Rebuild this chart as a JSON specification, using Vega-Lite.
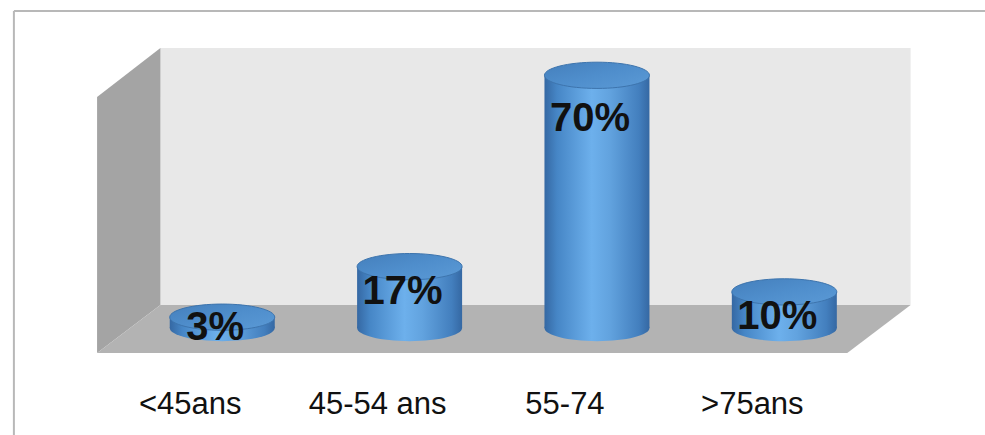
{
  "$schema": "https://vega.github.io/schema/vega-lite/v6.json",
  "width": 985,
  "height": 435,
  "autosize": {"type": "none"},
  "padding": 0,
  "background": "#ffffff",
  "config": {"view": {"stroke": null}},
  "datasets": {
    "bars": [
      {"age": "<45ans", "i": 0, "v": 3},
      {"age": "45-54 ans", "i": 1, "v": 17},
      {"age": "55-74", "i": 2, "v": 70},
      {"age": ">75ans", "i": 3, "v": 10}
    ],
    "backWall": [{"x1": -0.33, "x2": 3.674, "y1": 6.37, "y2": 77.56}],
    "leftWall": [
      {"x": -0.668, "lo": -6.93, "hi": 63.99},
      {"x": -0.33, "lo": 6.37, "hi": 77.56}
    ],
    "floor": [
      {"y": -6.93, "left": -0.668, "right": 3.336},
      {"y": 6.37, "left": -0.33, "right": 3.674}
    ],
    "frame": [{"x": -1.112, "xEnd": 4.2, "y": 87.81, "yEnd": -31}]
  },
  "layer": [
    {
      "data": {"name": "frame"},
      "mark": {"type": "rule", "color": "#b8b8b8", "strokeWidth": 2},
      "encoding": {
        "x": {"field": "x", "type": "quantitative", "scale": {"domain": [-1.1595, 4.0444], "nice": false, "zero": false}, "axis": null},
        "x2": {"field": "xEnd"},
        "y": {"field": "y", "type": "quantitative", "scale": {"domain": [-29.64, 90.86], "nice": false, "zero": false}, "axis": null}
      }
    },
    {
      "data": {"name": "frame"},
      "mark": {"type": "rule", "color": "#b8b8b8", "strokeWidth": 2},
      "encoding": {
        "x": {"field": "x", "type": "quantitative"},
        "y": {"field": "y", "type": "quantitative"},
        "y2": {"field": "yEnd"}
      }
    },
    {
      "data": {"name": "backWall"},
      "mark": {"type": "rect", "fill": "#e8e8e8"},
      "encoding": {
        "x": {"field": "x1", "type": "quantitative"},
        "x2": {"field": "x2"},
        "y": {"field": "y1", "type": "quantitative"},
        "y2": {"field": "y2"}
      }
    },
    {
      "data": {"name": "leftWall"},
      "mark": {"type": "area", "fill": "#a4a4a4", "orient": "vertical"},
      "encoding": {
        "x": {"field": "x", "type": "quantitative"},
        "y": {"field": "hi", "type": "quantitative"},
        "y2": {"field": "lo"}
      }
    },
    {
      "data": {"name": "floor"},
      "mark": {"type": "area", "fill": "#b3b3b3", "orient": "horizontal"},
      "encoding": {
        "y": {"field": "y", "type": "quantitative"},
        "x": {"field": "left", "type": "quantitative"},
        "x2": {"field": "right"}
      }
    },
    {
      "data": {"name": "bars"},
      "mark": {
        "type": "point",
        "shape": "M-1,0C-1,-0.138,-0.5523,-0.25,0,-0.25C0.5523,-0.25,1,-0.138,1,0C1,0.138,0.5523,0.25,0,0.25C-0.5523,0.25,-1,0.138,-1,0Z",
        "size": 11025,
        "filled": true,
        "opacity": 1,
        "strokeWidth": 0,
        "fill": {"gradient": "linear", "x1": 0, "x2": 1, "y1": 0, "y2": 0, "stops": [
          {"offset": 0, "color": "#3568a3"},
          {"offset": 0.12, "color": "#4686c6"},
          {"offset": 0.45, "color": "#6db0ec"},
          {"offset": 0.62, "color": "#62a3df"},
          {"offset": 0.9, "color": "#437fbe"},
          {"offset": 1, "color": "#3568a3"}
        ]}
      },
      "encoding": {
        "x": {"field": "i", "type": "quantitative"},
        "y": {"datum": 0, "type": "quantitative"}
      }
    },
    {
      "data": {"name": "bars"},
      "mark": {
        "type": "bar",
        "width": 105,
        "fill": {"gradient": "linear", "x1": 0, "x2": 1, "y1": 0, "y2": 0, "stops": [
          {"offset": 0, "color": "#3568a3"},
          {"offset": 0.12, "color": "#4686c6"},
          {"offset": 0.45, "color": "#6db0ec"},
          {"offset": 0.62, "color": "#62a3df"},
          {"offset": 0.9, "color": "#437fbe"},
          {"offset": 1, "color": "#3568a3"}
        ]}
      },
      "encoding": {
        "x": {"field": "i", "type": "quantitative"},
        "y": {"field": "v", "type": "quantitative"},
        "y2": {"datum": 0}
      }
    },
    {
      "data": {"name": "bars"},
      "mark": {
        "type": "point",
        "shape": "M-1,0C-1,-0.138,-0.5523,-0.25,0,-0.25C0.5523,-0.25,1,-0.138,1,0C1,0.138,0.5523,0.25,0,0.25C-0.5523,0.25,-1,0.138,-1,0Z",
        "size": 11025,
        "filled": true,
        "opacity": 1,
        "stroke": "#3d74ad",
        "strokeWidth": 1,
        "fill": {"gradient": "linear", "x1": 0, "x2": 1, "y1": 0, "y2": 1, "stops": [
          {"offset": 0, "color": "#447fbc"},
          {"offset": 0.5, "color": "#4f8ecc"},
          {"offset": 1, "color": "#5b9ad6"}
        ]}
      },
      "encoding": {
        "x": {"field": "i", "type": "quantitative"},
        "y": {"field": "v", "type": "quantitative"}
      }
    },
    {
      "data": {"name": "bars"},
      "transform": [
        {"calculate": "datum.v > 50 ? datum.v - 12 : max(0, datum.v - 7)", "as": "labY"},
        {"calculate": "datum.v + '%'", "as": "txt"}
      ],
      "mark": {"type": "text", "font": "Liberation Sans", "fontWeight": "bold", "fontSize": 40, "color": "#111111", "dx": -7, "baseline": "middle", "align": "center"},
      "encoding": {
        "x": {"field": "i", "type": "quantitative"},
        "y": {"field": "labY", "type": "quantitative"},
        "text": {"field": "txt"}
      }
    },
    {
      "data": {"name": "bars"},
      "mark": {"type": "text", "font": "Liberation Sans", "fontSize": 31, "color": "#111111", "dx": -32, "baseline": "middle", "align": "center"},
      "encoding": {
        "x": {"field": "i", "type": "quantitative"},
        "y": {"datum": -21.3, "type": "quantitative"},
        "text": {"field": "age"}
      }
    }
  ]
}
